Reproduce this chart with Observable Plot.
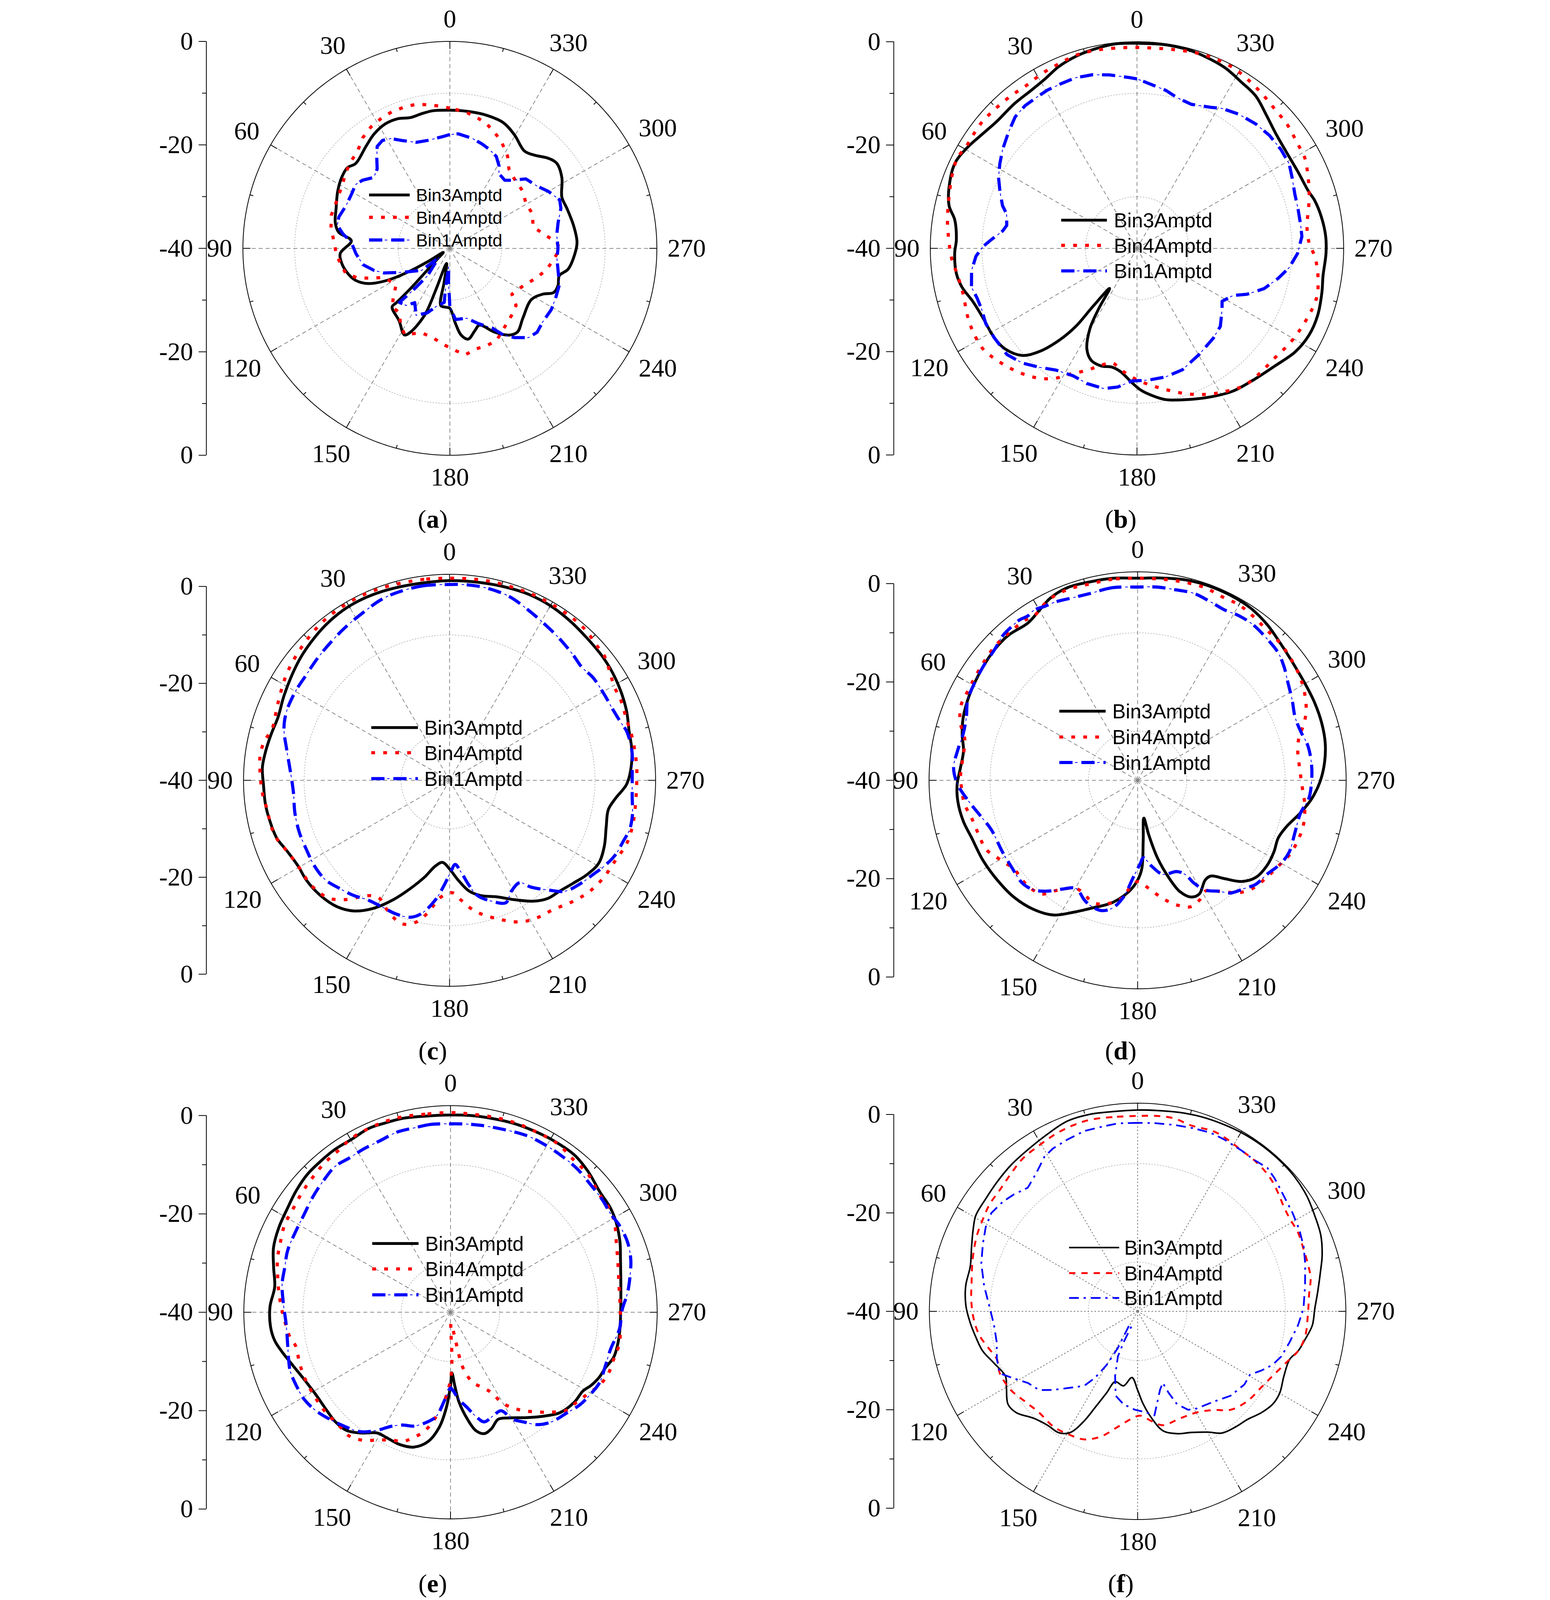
<!DOCTYPE html>
<html><head><meta charset="utf-8">
<script src="https://cdn.jsdelivr.net/npm/d3@7"></script>
<script src="https://cdn.jsdelivr.net/npm/@observablehq/plot@0.6"></script>
<style>
html,body{margin:0;padding:0;background:#fff;overflow:hidden;width:100%;height:100%;}
#wrap{position:absolute;left:0;top:0;width:3967px;height:5080px;transform-origin:0 0;}
#page{position:relative;width:3967px;height:5080px;background:#fff;overflow:hidden;}
.cell{position:absolute;width:1983px;height:1693px;}
.cell svg{max-width:none !important;}
.legend{position:absolute;left:0;top:0;overflow:visible;pointer-events:none;}
.cap{position:absolute;font-family:"Liberation Serif","Times New Roman",serif;font-size:82px;color:#000;transform:translate(-50%,-50%);white-space:nowrap;z-index:3;line-height:1;}
</style></head><body><div id="wrap"><div id="page"></div></div>
<script>
// ---------- DATA: [angle (deg, CCW from top), amplitude (dB)] ----------
const seriesNames = ["Bin3Amptd","Bin4Amptd","Bin1Amptd"];
const angleTicks = [0,30,60,90,120,150,180,210,240,270,300,330];
const radialMajor = [-40,-20,0,20,40];
const radialMinor = [-30,-10,10,30];
const panelLetters = ["a","b","c","d","e","f"];

const a_bin3 = [[0,-13.3],[7,-13.2],[11.8,-13.4],[16.8,-13.6],[21.9,-13],[27.5,-12.9],[33.6,-13.5],[39.6,-14.5],[48,-15.5],[51.8,-14.8],[56.8,-15],[63.2,-15.7],[70.7,-16.7],[77.3,-17.3],[81.8,-18.3],[85.6,-20.9],[92.6,-18.8],[97.8,-18.9],[104.5,-19.8],[108.9,-20.8],[113.3,-22.8],[117.2,-26.6],[119.7,-31.2],[121,-35],[122,-38.5],[130,-37],[134,-33.9],[135.6,-29.1],[135.5,-25.3],[135.4,-24.1],[145,-22.9],[152.3,-21.1],[154.8,-22.1],[159.3,-26.2],[161.3,-31.5],[165.5,-36.7],[168,-37],[170.4,-33.5],[171,-28.8],[175.9,-28.6],[180,-28.4],[184.3,-25.4],[187.4,-23.1],[191.4,-22.1],[197,-23.4],[201,-24.1],[208.2,-21.6],[214.3,-19.7],[218.8,-19.2],[226.4,-20.5],[237.8,-21.4],[243.7,-20],[246.9,-18.2],[251,-17.9],[256,-18.2],[260,-16.8],[267.7,-15.8],[272.8,-15.4],[280.6,-15.7],[288.9,-16.1],[294.6,-16.2],[302.3,-14.4],[308.5,-13.6],[312.4,-14.2],[317.9,-15.7],[322.6,-16.3],[330.2,-14.8],[337,-13.6],[345.9,-13.3],[353,-13.3]];
const a_bin4 = [[0,-12.9],[4.5,-12.4],[8.9,-11.9],[13.2,-11.4],[17.6,-11.3],[22.8,-11.3],[27.9,-11.6],[33,-12],[38.3,-12.8],[44,-14.2],[48.3,-14.5],[53.7,-15.1],[60,-15.9],[68.2,-16.3],[74.5,-16.2],[80.3,-16.7],[87,-17.6],[92.5,-18],[97.7,-18.6],[103.4,-19.3],[107.7,-21.2],[110.7,-23.7],[113.7,-26],[124,-27.5],[130,-25.8],[135.4,-24.1],[141.7,-24.2],[147.8,-22.2],[152.4,-21.2],[161.6,-22.8],[169.3,-22.4],[176.7,-21.3],[183.2,-20.2],[188.3,-19.2],[194.1,-19.9],[200.6,-19.9],[206.7,-20],[215,-21.5],[222.7,-22.4],[229.2,-23.1],[233.5,-25.1],[242.9,-24.1],[251.6,-22.2],[258,-20.8],[264,-19.8],[269.6,-18.8],[273.3,-19.3],[277.9,-21.4],[284.6,-23.4],[292.5,-22.7],[301,-22.9],[307.8,-22.1],[317,-21.7],[323.3,-20.9],[327.9,-19],[333.9,-17.2],[338.8,-16],[343.6,-14.9],[349.2,-14],[354.1,-13.4]];
const a_bin1 = [[0,-18],[4.3,-18.4],[11.8,-18.7],[17.7,-18.5],[23.9,-17.2],[28.3,-15.9],[32,-15.4],[35.5,-15.8],[38.9,-17.5],[42.5,-19.2],[47,-19.9],[52,-18.6],[55.9,-18],[61.3,-18.3],[67.7,-18.3],[74.2,-17.7],[78.4,-17.8],[82.2,-19.1],[86.4,-20.9],[93.1,-21.8],[100.6,-22.9],[106.1,-24.7],[110.5,-26.4],[116.8,-29.7],[128,-33.1],[129.5,-37.2],[140.8,-33.1],[138.7,-29.3],[137,-25.7],[142.6,-26.1],[147.1,-27.5],[153.2,-25.5],[160.8,-26.8],[166.5,-28.4],[174,-29.5],[173.8,-32.5],[176.5,-36.4],[177.6,-33.6],[180,-28.7],[184.5,-26.2],[193.6,-26.1],[200.5,-24.5],[207.9,-22.6],[211.7,-20.3],[215.9,-18.7],[221.4,-17],[226.1,-16.6],[231.4,-17.1],[238.8,-17.1],[244.6,-17.4],[251.8,-17.7],[257.1,-18.5],[264.3,-19.2],[270.3,-19.1],[277,-19.2],[283.4,-18.5],[289.8,-17.2],[293.8,-16.8],[300,-18],[305.6,-19.3],[312.4,-20.1],[317.7,-22.2],[321.1,-23.1],[326.8,-22.7],[329,-21.5],[333.2,-20.1],[338.3,-19.4],[342.8,-18.9],[348.5,-18.3],[355.8,-17.8]];

const b_bin3 = [[0,-0.3],[6.1,-0.2],[12.6,-0.6],[17.7,-1],[23.3,-1.7],[28.6,-2.7],[33.9,-3.2],[40.5,-3.3],[47.8,-3.4],[53.4,-2.8],[59.9,-1.7],[65,-1.1],[71.6,-1.7],[77.2,-2.7],[81.1,-4.3],[87.2,-5],[91.6,-4.7],[97.8,-4.7],[102.5,-5.3],[107.9,-6.6],[114.4,-7.3],[122,-7.4],[127.4,-7.9],[133,-9.6],[136.6,-12.5],[139.7,-16.6],[141.9,-20.8],[142.8,-25.8],[145.6,-30.6],[147.7,-26],[149.7,-21.9],[153.6,-18.2],[157.7,-16.6],[163,-16.2],[168.2,-16.5],[172.5,-15.9],[177.8,-14],[181.4,-12.6],[185.7,-11.4],[190.7,-10.2],[198.7,-9.1],[206.4,-7.9],[213.9,-6.7],[222.3,-5.9],[229.6,-4.9],[236.8,-3.4],[243.3,-2.7],[249.7,-2.7],[256.5,-3.2],[261.6,-3.6],[268.5,-3.4],[273.6,-3.4],[279.7,-3.8],[285.2,-4.4],[288.3,-5],[295.4,-5.5],[302.7,-5.6],[309.9,-5.1],[315.6,-4.1],[322.1,-2.6],[327.9,-2],[334.1,-1.1],[340.5,-0.6],[345.6,-0.3],[352,-0.2]];
const b_bin4 = [[0,-1.1],[6.3,-1],[12.7,-0.8],[17.6,-0.8],[22.9,-1.2],[28.5,-1.5],[34.6,-1.9],[39.6,-1.7],[45.9,-1.5],[51.6,-1.3],[59.2,-1.5],[63.2,-1.1],[68.3,-1.5],[74.8,-2.3],[81.4,-2.9],[88.1,-3.6],[93.3,-4.1],[98.7,-4.9],[105.2,-5.2],[111.5,-4.7],[117.1,-4.4],[123.2,-4.4],[128.6,-5.3],[134.7,-6.5],[141.2,-8],[147.2,-10],[152,-12.4],[157.7,-14.5],[162.9,-16.3],[167.8,-17.3],[173.7,-16],[180.2,-14.5],[186.1,-13.3],[191.5,-12.1],[199.4,-10.1],[206.8,-8.4],[212.4,-7.3],[218,-6.3],[223.9,-6.1],[231.7,-5.9],[238.1,-5.2],[243.7,-4.7],[248.7,-4.3],[252.6,-4],[256.2,-4],[263.1,-4.8],[267.5,-5.6],[272.1,-6.7],[277.7,-6.8],[283.1,-5.9],[288.3,-4.9],[293.3,-4],[298.3,-3.1],[303,-2.9],[309.7,-2.3],[315,-2.1],[320.2,-1.6],[325.8,-1],[331.9,-0.4],[338.1,-0.3],[343.8,-0.5],[350.2,-0.9],[355,-1.1]];
const b_bin1 = [[0,-7.2],[2.6,-6.9],[9,-6],[14.4,-5.3],[19.8,-4.9],[24.5,-4.9],[29.5,-4.8],[33.7,-4.9],[38.1,-4.9],[42.8,-5.3],[48,-6.5],[53.6,-7.7],[58.3,-8.8],[62.9,-9.9],[67.5,-11.3],[72.4,-12.7],[75.2,-13.9],[80,-14.4],[82.6,-13.8],[86.5,-11.8],[89.3,-10.2],[92.8,-8.8],[97.6,-7.7],[103.2,-7.1],[107.4,-7.6],[111.5,-7.7],[116.5,-7.3],[122,-7.4],[129.2,-7.5],[135,-8.6],[140.6,-10.2],[146.4,-11.7],[153.3,-12.4],[159.7,-12.1],[166.7,-12.1],[172.1,-12.9],[177.8,-14.3],[185.1,-14.4],[192.6,-14.5],[200.5,-14.9],[210.4,-16.2],[220.5,-17.2],[226.9,-17.9],[234.2,-19.7],[238.1,-20.6],[243.8,-19.3],[247.4,-16.9],[252.4,-14.2],[257.9,-12.1],[262.8,-10.3],[268.2,-8.9],[274.1,-8],[278,-8],[283.9,-7.9],[288.9,-7.7],[294.5,-7],[299.1,-6.3],[304.5,-6.2],[310.4,-6.3],[316.3,-6.7],[322.8,-7.4],[328.7,-8.3],[332.4,-9.2],[339.4,-10.2],[345.2,-9.8],[349.7,-8.9],[355.9,-8]];

const c_bin3 = [[0,1.2],[7.3,1.1],[13.8,1.2],[20.5,1.4],[26.6,1.5],[32.1,1.4],[38.4,1],[44.7,0.4],[50.6,-0.2],[57.1,-1],[63.4,-1.7],[69.8,-2.3],[75.4,-2],[80.9,-1.6],[86.1,-1.3],[91.3,-1.6],[97.4,-1.7],[102.8,-2],[108.4,-2.4],[113.9,-3.5],[119.5,-4.1],[124.8,-4],[131.7,-4.3],[138.4,-5.1],[143.8,-6.6],[149.3,-9.3],[154.8,-12.8],[160,-16.2],[165.4,-19.3],[170.7,-22.1],[175.1,-23],[180,-21.7],[184.8,-19.4],[190,-16.8],[195,-15.4],[202.3,-14],[208.4,-12],[214.9,-9.6],[219.8,-8.3],[224.6,-7.8],[230.3,-6.8],[235.6,-5.6],[240.9,-4.8],[246.9,-5.3],[253.5,-6.3],[259.5,-6.7],[263.7,-5.6],[268.6,-3.5],[273.1,-2.6],[279.2,-1.9],[285.3,-1.6],[291.3,-0.8],[297.3,-0.2],[303.6,0.3],[309.5,0.6],[315.9,0.8],[322.7,1.2],[330.1,1.6],[337.2,1.7],[343.8,1.5],[351.1,1.3]];
const c_bin4 = [[0,1.7],[7.2,1.8],[13.6,1.9],[20,2.1],[26,2.2],[32.4,2.1],[38.5,1.9],[44.4,1.4],[50.8,0.8],[57.1,0.1],[62.3,-0.7],[67.5,-1.4],[73.6,-1.9],[78.4,-0.9],[82.8,-0.6],[87.9,-0.9],[93.9,-1.3],[99.2,-1.9],[104.6,-2],[109.4,-2.5],[113.9,-3.5],[119.5,-4.1],[127.4,-4.2],[134.3,-5.2],[139,-7.4],[142.4,-9.6],[145.7,-11.2],[149.2,-11.7],[154.7,-10.2],[161.6,-8.8],[166.6,-9.9],[170.4,-12.1],[175.9,-15.9],[181.4,-16.8],[185.4,-15.2],[191,-12.5],[198.1,-10.1],[206.3,-7.4],[212.3,-6.4],[218.8,-5.8],[225.7,-4.3],[231.7,-3.1],[237.9,-2.4],[244.2,-2],[250.3,-1.2],[255.8,-1.1],[261.8,-1.3],[268.7,-1.4],[273.9,-1.3],[279,-1.3],[283.4,-1.3],[288.8,-1.4],[295,-1],[299.8,-0.9],[304,-0.1],[309,1],[313,1.2],[317.5,1.8],[323,2],[329,2],[335.3,2],[341.2,1.9],[348,1.9],[353.6,1.8]];
const c_bin1 = [[0,0.4],[7.4,0.5],[14.1,0.3],[20.4,-0.1],[27.5,-1.1],[34.2,-1.8],[40.3,-2.4],[47.2,-2.9],[53.7,-3.3],[60.2,-3.3],[67.1,-3.5],[72.6,-4.2],[79.7,-5.9],[87.5,-7.2],[94.6,-7.7],[101.8,-7.4],[109.1,-7.2],[115.7,-7.2],[122.4,-7],[128.9,-7.2],[134.6,-8.2],[140.3,-9.1],[145.7,-10.1],[151.9,-10.4],[158.2,-10.3],[164,-10.6],[168.1,-11.9],[173.3,-15.2],[176.9,-18.2],[180.9,-21.2],[183.8,-22.6],[187,-21],[190.6,-17.9],[193.7,-15.5],[199.2,-13.6],[204.7,-12.2],[209.1,-13.8],[214.4,-14.4],[217.3,-12.3],[221.9,-9.6],[226.1,-7],[232.2,-5.5],[236.7,-4.6],[241,-3.5],[245.8,-2.5],[250.9,-2],[254.7,-1.5],[259.1,-1.6],[265.2,-2.2],[272.2,-2.3],[279.2,-1.9],[285.5,-2.1],[288.6,-2.7],[293.7,-3.3],[299,-3.5],[305.6,-3.6],[310.7,-4.1],[315.3,-3.7],[322.3,-3],[328.5,-2.3],[335.2,-1.3],[342.2,-0.1],[349.3,0.4],[355.1,0.5]];

const d_bin3 = [[0,1.1],[7.1,1.4],[13.5,1.5],[20,1.7],[25.5,1.1],[30.1,-0.1],[34.9,-1],[41.8,-0.5],[47.6,-0.6],[53.6,-1],[59.3,-1.4],[64.8,-1.8],[70.1,-2.3],[75.2,-3.1],[80.4,-4.1],[85.9,-3.9],[91.3,-3.3],[96.7,-3.2],[103.2,-3.6],[109.2,-4.3],[117.4,-4.6],[125.4,-5],[133.3,-5.4],[141.2,-6.3],[148,-7.7],[153.9,-10.1],[160.6,-12.5],[168.3,-14.6],[175.7,-17.4],[180,-19.7],[182.7,-22],[185.3,-27.7],[189.3,-32.2],[191.6,-28.6],[194.3,-23.8],[197.7,-19.3],[200.8,-15.8],[204.6,-13.9],[208.5,-13.7],[214.1,-15.5],[217.4,-15.5],[221.5,-13.3],[225.8,-10.5],[230.6,-8.9],[236.5,-8.5],[242.3,-8.7],[247.7,-9.1],[252.7,-8.3],[258.8,-6.2],[264,-4.4],[269.6,-2.9],[275.6,-1.8],[281.4,-1.1],[287.4,-0.8],[293.6,-0.7],[299.2,-0.7],[305.9,-0.5],[313.6,0.2],[320.3,1.2],[326.9,1.9],[333.4,2.1],[340.2,2.1],[346.6,1.9],[353.7,1.4]];
const d_bin4 = [[0,1.1],[7.2,1.2],[13.7,1.1],[18.6,1.3],[23.7,1.2],[27.6,0.6],[32.3,-0.5],[35.1,-0.2],[39.2,-0.2],[42.4,-0.2],[47,-0.2],[53,-0.6],[58.7,-0.9],[63.4,-1],[67.2,-1],[72,-2.1],[76.7,-3.9],[82.2,-4.2],[87.7,-4],[93.2,-4.2],[97.9,-4.5],[102.9,-5.4],[110.1,-5.9],[114.4,-6.1],[118.8,-7.4],[122.1,-8.3],[125.6,-9.1],[130.9,-9],[135.4,-9.1],[140,-9.8],[142.8,-11.7],[147,-13.8],[150.3,-14.7],[154.9,-14.5],[158.2,-13.8],[162.3,-13.6],[168.3,-14.6],[173.1,-16.1],[175.5,-17.9],[180,-19.4],[185.9,-17.9],[192.1,-15.4],[197.5,-13.4],[202.9,-12.1],[207.4,-12.6],[211.3,-13.6],[216.3,-12],[221.2,-9.6],[225.7,-8.1],[231.7,-7.3],[238.6,-6.5],[243.9,-5.6],[249.3,-5.2],[255.3,-5.1],[261.9,-5.7],[268.5,-6.6],[275.5,-7],[280.4,-6.9],[285.1,-6],[288.3,-4.5],[292.2,-3],[297.1,-1.8],[302.2,-0.9],[307.7,-0.3],[313.6,0.2],[319.3,0.3],[325,0.8],[330,1.2],[335.4,1.1],[340.7,1.5],[346.4,1.4],[352.8,1.2]];
const d_bin1 = [[0,-0.7],[7.5,-0.5],[14.3,-0.8],[19.5,-0.6],[24.5,-0.1],[28,0.1],[31.4,0.5],[33.7,0.2],[36.4,0.5],[39.5,0.4],[43,0.2],[47.6,-0.6],[53.6,-1],[59.3,-1.4],[64.8,-1.8],[69.8,-2.9],[75.1,-3.3],[80.7,-2.9],[86.1,-2.5],[91.3,-3.4],[97.1,-5.4],[102.6,-7.2],[108.6,-8.6],[118,-8.9],[124.1,-8.9],[131.7,-8.6],[136.5,-9.3],[141,-11],[145.1,-13],[150.3,-14.7],[155.9,-13.4],[159.1,-12.8],[164.3,-12.5],[168.8,-13.5],[173.1,-16.1],[177.5,-20.3],[181.9,-23.1],[184.2,-24.2],[189.3,-22.3],[195,-20.2],[203.3,-19.8],[206.9,-18.5],[208.7,-16.2],[211.6,-13.8],[216.3,-12],[219.5,-10.3],[224.6,-9.1],[228.6,-8],[233.9,-7.5],[240,-6.3],[244.7,-5.9],[251.7,-6.3],[258.8,-6.2],[263.9,-5],[270.5,-4.6],[276,-4.5],[281.7,-4.7],[286.8,-5.4],[291.9,-5.5],[297.4,-4.6],[302.8,-3.6],[307.9,-2.3],[312.3,-1.4],[317.7,-1],[323.5,-0.6],[328.4,-0.7],[332.9,-1.1],[337.7,-0.8],[343.3,-0.3],[349.2,-0.5],[354.2,-0.5]];

const e_bin3 = [[0,0.1],[7.3,0.2],[13.8,0.6],[18.8,0.7],[23.9,0.9],[29.6,0.5],[35.3,0.6],[40.4,0.5],[46.1,0.4],[52,-0.1],[57.5,-0.7],[63.8,-1.1],[69.9,-1.7],[75.7,-2.9],[81.8,-3.9],[88.2,-3.3],[94.5,-3.3],[99.1,-3.8],[103.1,-4.8],[108.7,-6.2],[114.8,-7.3],[121.1,-7.9],[128.5,-7.9],[133.6,-7.7],[138.6,-8],[143.3,-9.4],[148.8,-11.3],[152.7,-11.4],[159,-11.2],[164.8,-11.6],[170.1,-13.3],[174.4,-16.5],[177.5,-20.6],[180,-25.1],[181.3,-27.7],[183.3,-25.1],[185.4,-21.7],[189,-18],[192.1,-15.4],[195.5,-14.4],[199.3,-14.9],[204.1,-16.2],[209.2,-15.4],[215.8,-13.6],[221.7,-11.7],[227.5,-9.8],[234,-8.9],[239.2,-8.7],[242.5,-7.8],[246.5,-7],[250,-6.6],[254.6,-5.6],[259.5,-5.4],[264.3,-5.4],[270.9,-5.4],[278.5,-5],[287.4,-3.8],[292.6,-2.7],[298.5,-1.7],[303,-1.2],[309,-1],[315.6,0],[321.8,0.7],[328.8,0.7],[334.2,0.6],[341,0.5],[347.7,0.3],[354.3,0.2]];
const e_bin4 = [[0,0.6],[7.3,0.6],[13.7,0.9],[18.7,1],[23.9,0.9],[29.4,0.7],[36,-0.1],[40.3,-0.3],[45.6,-0.8],[50.7,-1.2],[56.5,-1.7],[62.3,-1.9],[67.5,-2.6],[72.8,-3.2],[78.1,-4.1],[83.5,-4.9],[89,-5.7],[94.9,-6.5],[99,-7],[102.3,-7.8],[107.5,-7.7],[112.7,-7.5],[118.4,-7.5],[124.2,-7.5],[129.3,-7.5],[135,-7.7],[140.7,-7.5],[145.7,-8.5],[150.3,-10.1],[155.2,-11.4],[159.7,-12],[163.7,-13.5],[167.9,-15.4],[172.3,-18.7],[176.3,-22.2],[180,-26.3],[181.7,-30.3],[183,-37.7],[190.3,-33.6],[191.6,-30.1],[193.4,-27.7],[197.7,-25],[204,-23.1],[207.4,-21.4],[209.4,-19],[212.9,-16.9],[216.6,-15.1],[221.1,-13.1],[225.4,-11.1],[229.5,-9.2],[234.6,-8.5],[239.4,-7.5],[243.9,-6.3],[248.6,-5.6],[253.7,-5.5],[259.6,-5.1],[266.2,-5.4],[272.9,-5.5],[279.5,-5.3],[285.9,-4.6],[293,-3.4],[297.9,-2.2],[302.3,-1.5],[308.4,-1.4],[315,-0.4],[320.8,-0.2],[327.7,0.6],[334.2,0.6],[341.2,0.7],[347.8,0.6],[354.3,0.5]];
const e_bin1 = [[0,-1.7],[6,-1.6],[11.2,-1.8],[16.5,-1.8],[22.3,-2.3],[28.1,-2.4],[33.2,-2.5],[38.3,-2.2],[43.8,-2.8],[50.1,-3.5],[56.1,-4.2],[62.2,-4.5],[69.2,-4.6],[74.8,-5.1],[80.5,-5.3],[87.1,-6],[93.9,-6.5],[100.7,-6.3],[106.5,-5.7],[110.2,-5.3],[115.3,-5.3],[120.8,-5.4],[126.1,-6.1],[131.5,-7.2],[136.8,-8.3],[143,-9.6],[148.2,-11.8],[152.6,-13.9],[157,-15.1],[162.2,-15.7],[168.4,-17.3],[172.3,-18.7],[176.3,-22.2],[180,-24.6],[182,-24],[185.5,-22.2],[190,-20.3],[193.7,-18.2],[197.1,-16.7],[202.1,-17.2],[207.2,-17.5],[210.1,-14.9],[213.7,-13.2],[217.8,-11.1],[222.7,-9.7],[228.7,-8.8],[234.3,-7.7],[239.9,-7],[244.7,-6.5],[250.9,-6.7],[257.2,-6.6],[264.3,-5.5],[270.9,-5.1],[276.3,-3.8],[282.3,-2.6],[286.5,-1.8],[291.6,-1.3],[297.3,-1.4],[301.6,-1.8],[306.5,-1.6],[312,-1.5],[318.6,-1.1],[325.1,-1],[331.2,-0.9],[336.8,-0.9],[343.7,-1.3],[350.6,-1.5],[354.9,-1.6]];

const f_bin3 = [[0,0.9],[7.2,0.9],[13.7,1.2],[20.3,1.2],[26.9,0.4],[34.1,-0.3],[40.9,-0.7],[47.4,-1.2],[53.5,-1.6],[59.4,-1.8],[63.6,-2.7],[68.7,-3.8],[74.9,-4.8],[81.6,-4.7],[88.1,-5.1],[93.8,-5.9],[98.9,-6.7],[104.3,-7.5],[109.9,-9],[116.1,-10.1],[120.1,-9.2],[125.7,-7.6],[129.9,-7.9],[135.8,-9.7],[141.7,-10.5],[147,-10.6],[150.9,-11.8],[154,-15.2],[156.2,-18.7],[159.2,-22.3],[162.3,-25],[169.3,-24.6],[175.1,-26.5],[180,-24],[183.5,-21.1],[187.5,-18.1],[192,-15.2],[197.8,-13.9],[203.8,-13.1],[210.2,-11.6],[214.8,-9.9],[220.5,-9.2],[225.4,-8.7],[230.7,-7.5],[235.5,-6.7],[240.1,-6.7],[246.1,-7.5],[252.5,-7.6],[256.2,-6.4],[260.5,-5.5],[265.4,-4.4],[270.9,-4],[276.2,-3.2],[282.2,-2],[287,-0.8],[292.6,0.3],[298.4,0.9],[304.3,1.6],[310.6,2],[316.6,2.1],[323.1,2.1],[329.7,2],[335.5,1.8],[341.8,1.6],[348.1,1.3],[354.4,1]];
const f_bin4 = [[0,-0.3],[7.4,-0.2],[14,0.1],[19.2,0],[24.7,-0.3],[30.7,-0.8],[37.2,-1.2],[42.6,-2],[48.7,-2.7],[54.1,-2.9],[59,-3.4],[64.7,-3.9],[72,-4.8],[79.4,-5.7],[87.1,-6.2],[93.9,-6.8],[99.1,-7.6],[103.8,-8.8],[108.8,-9.8],[114.2,-9.3],[121.9,-9.7],[128.7,-10.7],[135.8,-11.3],[143.8,-11],[150.1,-11.3],[157.3,-11.8],[163.7,-13.5],[170.3,-16.2],[177,-18.2],[181.5,-18.8],[187.3,-17.5],[192.5,-16.3],[201.5,-16.6],[210.3,-16.2],[217.6,-14.7],[223.3,-12.5],[230.6,-11.2],[238.5,-10.5],[244.4,-9.6],[251.2,-8],[256.2,-6.4],[261.4,-5.6],[269.1,-5.4],[275.6,-5],[281,-4.2],[285.7,-4.1],[290.5,-4],[296.2,-3.7],[301.4,-3.8],[305.4,-3.5],[310,-2.7],[313.8,-2],[318,-1.5],[322.8,-1.2],[327,-1.1],[332.3,-0.6],[337.1,-0.3],[343.9,-0.7],[349.3,-0.1],[354.2,-0.1]];
const f_bin1 = [[0,-1.7],[6,-1.6],[11.2,-1.8],[16.5,-1.8],[22.3,-2.3],[27.4,-2.7],[31,-3.3],[36.3,-5.2],[41.6,-6.4],[46.7,-5.4],[50.9,-4.7],[56.1,-4.2],[60.9,-4.7],[66.4,-5.7],[73,-6.8],[80.6,-8.4],[88.9,-10],[95.6,-10.7],[102.4,-10.7],[108.8,-9.8],[114.2,-9.3],[117.6,-11],[123.2,-13.4],[128.7,-14.4],[133,-16.6],[139.6,-19.7],[144.4,-21.4],[147.4,-24],[150,-27.4],[151.7,-31.5],[149,-36.7],[158,-36.9],[155.6,-33.1],[156.4,-30],[160.8,-26.1],[165.4,-22.3],[171.4,-20.9],[178.4,-20],[184.8,-19.4],[189.2,-18.6],[195.9,-23.4],[199.4,-24.6],[200.8,-22.3],[203,-19.5],[207.2,-17.5],[211.3,-16.9],[220.2,-16],[227.7,-14.5],[235.6,-13.7],[240.6,-13.8],[244.5,-12.1],[248.4,-10.5],[252.6,-9.4],[258.5,-8.5],[265,-7.3],[271,-6.3],[278.6,-5.6],[285.9,-4.6],[291.3,-3.8],[296.8,-3.2],[302.5,-2.7],[306.3,-2.4],[310.1,-1.9],[314.2,-1.2],[317.9,-0.7],[322.8,-1.2],[327,-1.1],[333.1,-0.9],[337.7,-0.8],[342.9,-1.1],[348.9,-1.4],[354.9,-1.6]];

// ---------- LAYOUT / STYLE ----------
const SERIF = '"Liberation Serif","Times New Roman",serif';
const SANS = '"Liberation Sans",Arial,sans-serif';
const FS = 81;
const PAGE_W = 3967, PAGE_H = 5080;
const CELL_W = 1983, CELL_H = 1693;

const STY = {
  normal: [
    [{stroke:"#000000", w:9, dash:null}],
    [{stroke:"#ff0000", w:10, dash:"12,26"}],
    [{stroke:"#0000ff", w:10, dash:"42,28"}, {stroke:"#0000ff", w:2.5, dash:"0,50,8,12"}]
  ],
  thin: [
    [{stroke:"#000000", w:5, dash:null}],
    [{stroke:"#ff0000", w:6, dash:"20,19"}],
    [{stroke:"#0000ff", w:5.5, dash:"31,15,7,16"}]
  ]
};

const panels = [
  {data:[a_bin3,a_bin4,a_bin1], curves:["catmull-rom-closed","linear-closed","linear-closed"], left:0, top:0, cx:951, cy:788, R:657, outer:0, axisX:178,
   leg:{x0:-256,x1:-127,tx:-107,rows:[-169,-98,-26],fs:56}, cap:{x:897,y:1648}},
  {data:[b_bin3,b_bin4,b_bin1], curves:["catmull-rom-closed","catmull-rom-closed","linear-closed"], left:1984, top:0, cx:1148, cy:788, R:656, outer:0, axisX:376,
   leg:{x0:-240,x1:-95,tx:-73,rows:[-89,-9,72],fs:64}, cap:{x:3081,y:1648}},
  {data:[c_bin3,c_bin4,c_bin1], curves:["catmull-rom-closed","catmull-rom-closed","catmull-rom-closed"], left:0, top:1693, cx:950, cy:784, R:654, outer:2.5, axisX:178,
   leg:{x0:-248,x1:-100,tx:-80,rows:[-167,-87,-5],fs:64}, cap:{x:897,y:3336}},
  {data:[d_bin3,d_bin4,d_bin1], curves:["catmull-rom-closed","catmull-rom-closed","catmull-rom-closed"], left:1984, top:1693, cx:1150, cy:784, R:662, outer:2.4, axisX:376,
   leg:{x0:-248,x1:-101,tx:-80,rows:[-219,-137,-56],fs:64}, cap:{x:3081,y:3336}},
  {data:[e_bin3,e_bin4,e_bin1], curves:["catmull-rom-closed","catmull-rom-closed","catmull-rom-closed"], left:0, top:3386, cx:953, cy:780, R:656, outer:2, axisX:178,
   leg:{x0:-248,x1:-101,tx:-80,rows:[-218,-137,-55],fs:64}, cap:{x:897,y:5028}},
  {data:[f_bin3,f_bin4,f_bin1], curves:["catmull-rom-closed","catmull-rom-closed","linear-closed"], left:1984, top:3386, cx:1150, cy:777, R:661, outer:2.3, axisX:376, thin:true,
   leg:{x0:-217,x1:-58,tx:-42,rows:[-202,-121,-42],fs:64}, cap:{x:3081,y:5028}}
];

const rad = (a) => a * Math.PI / 180;
function toXY(a, db) {
  const r = Math.max(0, db + 40), t = rad(a);
  return {x: -r * Math.sin(t), y: r * Math.cos(t)};
}

function buildPanel(p, idx) {
  const rOut = p.outer + 40;
  const k = rOut / p.R;
  const R0 = p.R * 40 / rOut;
  const sty = p.thin ? STY.thin : STY.normal;
  const ring = (r) => d3.range(0, 361, 1).map(a => ({x: -r * Math.sin(rad(a)), y: r * Math.cos(rad(a))}));
  const tickLen = (a) => (a % 30 === 0 ? 24 : 11) * k;

  const marks = [];
  for (const r of [30, 10]) {
    marks.push(Plot.line(ring(r), {x: "x", y: "y", stroke: "#b4b4b4", strokeWidth: 2, strokeDasharray: "3,6"}));
  }
  marks.push(Plot.link(angleTicks, {
    x1: 0, y1: 0,
    x2: a => -(rOut - tickLen(a)) * Math.sin(rad(a)), y2: a => (rOut - tickLen(a)) * Math.cos(rad(a)),
    stroke: "#808080", strokeWidth: p.thin ? 2.6 : 2.2, strokeDasharray: p.thin ? "5,6" : "13,9"
  }));
  marks.push(Plot.line(ring(rOut), {x: "x", y: "y", stroke: "#000", strokeWidth: 2.5}));
  marks.push(Plot.link(d3.range(0, 360, 15), {
    x1: a => -rOut * Math.sin(rad(a)), y1: a => rOut * Math.cos(rad(a)),
    x2: a => -(rOut - tickLen(a)) * Math.sin(rad(a)),
    y2: a => (rOut - tickLen(a)) * Math.cos(rad(a)),
    stroke: "#000", strokeWidth: 2.5
  }));
  p.data.forEach((d, si) => {
    const pts = d.map(([a, v]) => toXY(a, v));
    for (const s of sty[si]) {
      marks.push(Plot.line(pts, {
        x: "x", y: "y", stroke: s.stroke, strokeWidth: s.w,
        strokeDasharray: s.dash || undefined, curve: p.curves[si],
        strokeLinejoin: "round", strokeLinecap: "butt"
      }));
    }
  });
  const labR = (a) => {
    const t = rad(a), s = Math.abs(Math.sin(t)), c = Math.abs(Math.cos(t));
    const w = String(a).length * 0.5 * FS;
    return (p.R + 34 + 10 * c + s * w / 2 + c * 0.33 * FS) * k;
  };
  marks.push(Plot.text(angleTicks, {
    x: a => -labR(a) * Math.sin(rad(a)), y: a => labR(a) * Math.cos(rad(a)),
    text: a => String(a), fontSize: FS, fontFamily: SERIF, fill: "#000",
    textAnchor: "middle", lineAnchor: "middle"
  }));
  marks.push(Plot.ruleX([-(p.cx - p.axisX) * k], {y1: -40, y2: 40, stroke: "#000", strokeWidth: 2.5}));
  marks.push(Plot.axisY({
    ticks: radialMajor, tickFormat: d => String(Math.abs(d) - 40), tickSize: 24, tickPadding: 18,
    fontSize: FS, fontFamily: SERIF, strokeWidth: 2.5, label: null, fill: "#000"
  }));
  marks.push(Plot.axisY({ticks: radialMinor, tickFormat: () => "", tickSize: 13, strokeWidth: 2.5, label: null}));

  const svg = Plot.plot({
    width: CELL_W, height: CELL_H,
    marginLeft: p.axisX, marginRight: 10,
    marginTop: p.cy - R0, marginBottom: CELL_H - (p.cy + R0),
    x: {domain: [-rOut, rOut], range: [p.cx - p.R, p.cx + p.R], axis: null},
    y: {domain: [-rOut, rOut], range: [p.cy + p.R, p.cy - p.R], label: null},
    style: {fontFamily: SERIF, fontSize: FS + "px", color: "#000", background: "transparent", overflow: "visible"},
    marks
  });

  const cell = document.createElement("div");
  cell.className = "cell";
  cell.style.left = p.left + "px";
  cell.style.top = p.top + "px";
  cell.appendChild(svg);
  document.getElementById("page").appendChild(cell);

  const lg = d3.select(cell).append("svg").attr("class", "legend")
    .attr("width", CELL_W).attr("height", CELL_H);
  seriesNames.forEach((name, si) => {
    const y = p.cy + p.leg.rows[si];
    for (const s of sty[si]) {
      lg.append("line")
        .attr("x1", p.cx + p.leg.x0).attr("x2", p.cx + p.leg.x1)
        .attr("y1", y).attr("y2", y)
        .attr("stroke", s.stroke).attr("stroke-width", s.w)
        .attr("stroke-dasharray", s.dash || null);
    }
    lg.append("text")
      .attr("x", p.cx + p.leg.tx).attr("y", y + 0.36 * p.leg.fs)
      .attr("font-family", SANS).attr("font-size", p.leg.fs).attr("fill", "#000")
      .text(name);
  });

  const cap = document.createElement("div");
  cap.className = "cap";
  cap.style.left = p.cap.x + "px";
  cap.style.top = p.cap.y + "px";
  cap.innerHTML = "(<b>" + panelLetters[idx] + "</b>)";
  document.getElementById("page").appendChild(cap);
}

panels.forEach(buildPanel);

// fit the whole 3967×5080 figure into the visible viewport (uniform scale, centred)
function fit() {
  const vw = window.innerWidth || PAGE_W, vh = window.innerHeight || PAGE_H;
  const s = Math.min(1, vw / PAGE_W, vh / PAGE_H);
  const dx = Math.max(0, (vw - PAGE_W * s) / 2);
  document.getElementById("wrap").style.transform = `translate(${dx}px,0px) scale(${s})`;
}
fit();
window.addEventListener("resize", fit);
</script>
</body></html>
